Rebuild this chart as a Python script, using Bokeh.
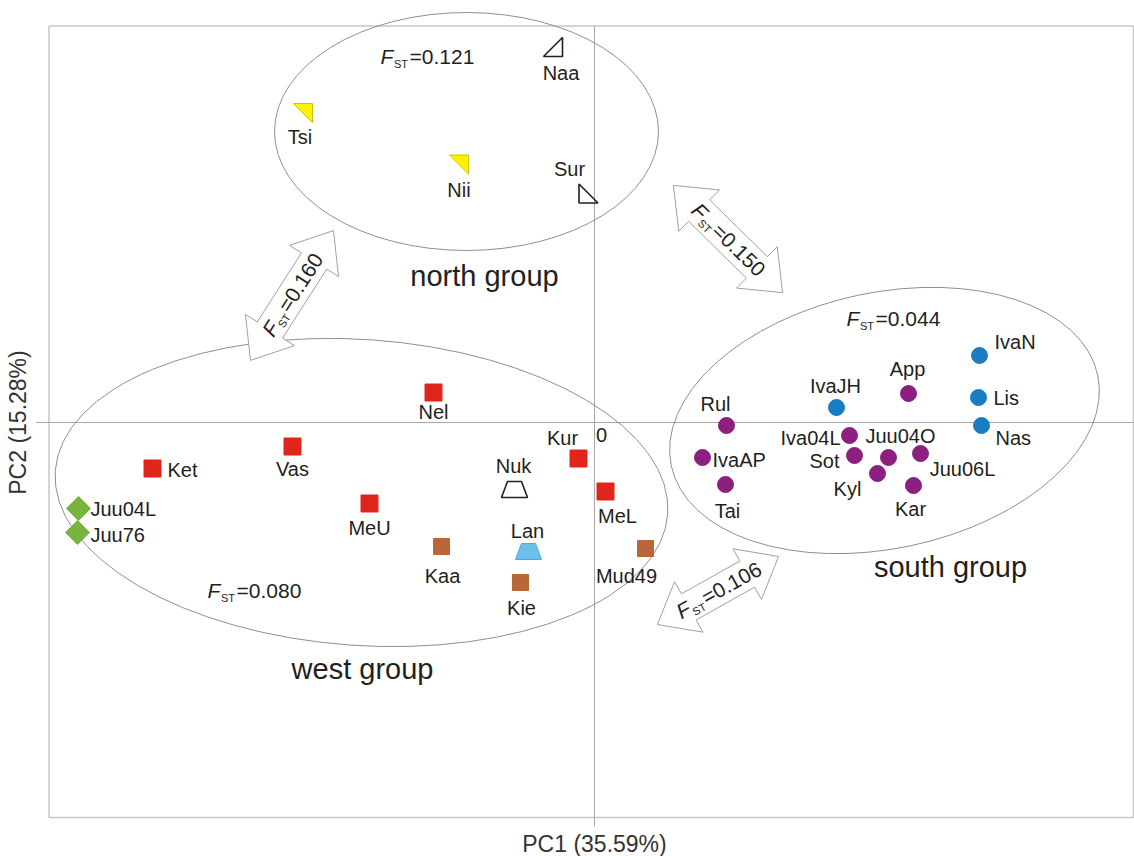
import math
from bokeh.plotting import figure
from bokeh.models import Range1d
from bokeh.embed import file_html
from bokeh.resources import INLINE
from bokeh.core.properties import value

# ---------------- data ----------------
pc1_limits = [-1.091, 1.078]
pc2_limits = [-0.790, 0.793]
x_title = "PC1 (35.59%)"
y_title = "PC2 (15.28%)"
origin_label = "0"

west_red_names = ["Nel", "Ket", "Vas", "MeU", "Kur", "MeL"]
west_red_pc1 = [-0.322, -0.884, -0.604, -0.450, -0.032, 0.022]
west_red_pc2 = [0.060, -0.092, -0.048, -0.162, -0.072, -0.138]

west_brown_names = ["Kaa", "Kie", "Mud49"]
west_brown_pc1 = [-0.306, -0.148, 0.102]
west_brown_pc2 = [-0.248, -0.320, -0.252]

west_green_names = ["Juu04L", "Juu76"]
west_green_pc1 = [-1.032, -1.034]
west_green_pc2 = [-0.172, -0.220]

trap_names = ["Nuk", "Lan"]
trap_pc1 = [-0.160, -0.132]
trap_pc2 = [-0.134, -0.258]

north_yellow_names = ["Tsi", "Nii"]
north_yellow_pc1 = [-0.583, -0.271]
north_yellow_pc2 = [0.619, 0.516]

north_open_names = ["Naa", "Sur"]
north_open_pc1 = [-0.083, -0.012]
north_open_pc2 = [0.751, 0.458]

south_blue_names = ["IvaN", "Lis", "Nas", "IvaJH"]
south_blue_pc1 = [0.770, 0.768, 0.774, 0.484]
south_blue_pc2 = [0.134, 0.050, -0.006, 0.030]

south_purple_names = ["App", "Rul", "IvaAP", "Tai", "Iva04L", "Sot",
                      "Juu04O", "Juu06L", "Kyl", "Kar"]
south_purple_pc1 = [0.628, 0.264, 0.216, 0.262, 0.510, 0.520, 0.588, 0.652, 0.566, 0.638]
south_purple_pc2 = [0.058, -0.006, -0.070, -0.124, -0.026, -0.066, -0.070, -0.062, -0.102, -0.126]

group_names = ["north group", "west group", "south group"]
group_fst = ["0.121", "0.080", "0.044"]
group_ell_pc1 = [-0.256, -0.466, 0.580]
group_ell_pc2 = [0.582, -0.140, 0.004]
group_ell_w = [0.768, 1.228, 0.872]
group_ell_h = [0.476, 0.612, 0.512]
group_ell_angle = [0.0, -4.0, 12.0]

pair_names = ["west-north", "north-south", "west-south"]
pair_fst = ["0.160", "0.150", "0.106"]

# ---------------- layout / style ----------------
PX = 500.0  # screen pixels per data unit (both axes)
W, H = 1134, 856
x_range = ((0 - 594) / PX, (W - 594) / PX)
y_range = ((422 - H) / PX, (422 - 0) / PX)
FONT = value("Liberation Sans")
TXT = "#231f20"

# label offsets in pixels: (dx right, dy down, align)
label_pos = {
    "Nel": (0, 19, "center"), "Ket": (15, 1, "left"), "Vas": (0, 22, "center"),
    "MeU": (0, 24, "center"), "Kur": (-16, -21, "center"), "MeL": (12, 24, "center"),
    "Kaa": (1, 29, "center"), "Kie": (1, 25, "center"), "Mud49": (-19, 27, "center"),
    "Juu04L": (12, 0, "left"), "Juu76": (13, 2, "left"),
    "Nuk": (-1, -24, "center"), "Lan": (-1, -21, "center"),
    "Tsi": (-3, 24, "center"), "Nii": (0, 25, "center"),
    "Naa": (8, 26, "center"), "Sur": (-19, -25, "center"),
    "IvaN": (15, -14, "left"), "Lis": (15, 0, "left"), "Nas": (14, 12, "left"),
    "IvaJH": (-1, -22, "center"), "App": (-1, -25, "center"), "Rul": (-11, -22, "center"),
    "IvaAP": (10, 2, "left"), "Tai": (2, 26, "center"), "Iva04L": (-9, 2, "right"),
    "Sot": (-15, 5, "right"), "Juu04O": (12, -22, "center"), "Juu06L": (42, 15, "center"),
    "Kyl": (-30, 15, "center"), "Kar": (-3, 23, "center"),
}
group_label_px = [(484, 275), (362, 668), (950, 566)]
group_fst_px = [(380, 56), (207, 590), (846, 318)]
arrow_center_px = [(291.5, 295), (727.5, 238.5), (717.5, 590)]
arrow_angle = [57.4, -44.5, 29.3]
arrow_len = [154, 153, 139]


def to_data(px, py):
    return (px - 594) / PX, (422 - py) / PX


p = figure(width=W, height=H, x_range=Range1d(*x_range), y_range=Range1d(*y_range),
           x_axis_location=None, y_axis_location=None, min_border=0,
           toolbar_location=None, output_backend="svg", outline_line_color=None,
           background_fill_color="white", border_fill_color="white")
p.grid.visible = False

# plot box
bx = [pc1_limits[0], pc1_limits[1], pc1_limits[1], pc1_limits[0], pc1_limits[0]]
by = [pc2_limits[1], pc2_limits[1], pc2_limits[0], pc2_limits[0], pc2_limits[1]]
p.line(bx, by, line_color="#c6c6c6", line_width=1.5)
# zero lines (slightly extended beyond the box like the original)
p.segment(x0=[pc1_limits[0] - 13 / PX, 0], y0=[0, pc2_limits[0] - 9 / PX],
          x1=[pc1_limits[1], 0], y1=[0, pc2_limits[1]],
          line_color="#a8a8a8", line_width=1)

# ellipses
p.ellipse(x=group_ell_pc1, y=group_ell_pc2, width=group_ell_w, height=group_ell_h,
          angle=[math.radians(a) for a in group_ell_angle],
          fill_color=None, line_color="#8f8f8f", line_width=1)

# double arrows
axs, ays = [], []
for (cxp, cyp), ang, L in zip(arrow_center_px, arrow_angle, arrow_len):
    cx, cy = to_data(cxp, cyp)
    a = math.radians(ang)
    ux, uy = math.cos(a), math.sin(a)
    vx, vy = -uy, ux
    hl, hw, sw, h = 36, 29, 15, L / 2
    local = [(h, 0), (h - hl, hw), (h - hl, sw), (-h + hl, sw), (-h + hl, hw), (-h, 0),
             (-h + hl, -hw), (-h + hl, -sw), (h - hl, -sw), (h - hl, -hw)]
    axs.append([cx + (s * ux + t * vx) / PX for s, t in local])
    ays.append([cy + (s * uy + t * vy) / PX for s, t in local])
p.patches(axs, ays, fill_color="white", line_color="#a0a0a0", line_width=1)


def fst_text(x0, y0, ang_deg, val, size=21):
    a = math.radians(ang_deg)
    ux, uy = math.cos(a), math.sin(a)
    vx, vy = -uy, ux
    p.text(x=[x0], y=[y0], text=["F"], angle=[a], text_font=FONT,
           text_font_style="italic", text_font_size=value(f"{size}px"),
           text_align="left", text_baseline="middle", text_color=TXT)
    sx = x0 + (13.5 * ux - 7 * vx) / PX
    sy = y0 + (13.5 * uy - 7 * vy) / PX
    p.text(x=[sx], y=[sy], text=["ST"], angle=[a], text_font=FONT,
           text_font_size=value("11px"), text_align="left", text_baseline="middle",
           text_color=TXT)
    ex = x0 + 29 * ux / PX
    ey = y0 + 29 * uy / PX
    p.text(x=[ex], y=[ey], text=["=" + val], angle=[a], text_font=FONT,
           text_font_size=value(f"{size}px"), text_align="left", text_baseline="middle",
           text_color=TXT)


# group FST labels
for (fx, fy), val in zip(group_fst_px, group_fst):
    x0, y0 = to_data(fx, fy)
    fst_text(x0, y0, 0, val)

# arrow FST labels
for (cxp, cyp), ang, val in zip(arrow_center_px, arrow_angle, pair_fst):
    cx, cy = to_data(cxp, cyp)
    a = math.radians(ang)
    x0 = cx - 46 * math.cos(a) / PX
    y0 = cy - 46 * math.sin(a) / PX
    fst_text(x0, y0, ang, val, size=21)

# group names
gx, gy = zip(*[to_data(*q) for q in group_label_px])
p.text(x=list(gx), y=list(gy), text=group_names, text_font=FONT,
       text_font_size=value("29px"), text_align="center", text_baseline="middle",
       text_color=TXT)

# ---------------- markers ----------------
p.scatter(west_red_pc1, west_red_pc2, marker="square", size=17,
          fill_color="#e1251b", line_color="#e1251b")
p.scatter(west_brown_pc1, west_brown_pc2, marker="square", size=16,
          fill_color="#b8663a", line_color="#b8663a")
p.scatter(west_green_pc1, west_green_pc2, marker="square", size=17, angle=math.pi / 4,
          fill_color="#7ab33f", line_color="#7ab33f")
p.scatter(south_blue_pc1, south_blue_pc2, marker="circle", size=16,
          fill_color="#1b7dc1", line_color="#1b7dc1")
p.scatter(south_purple_pc1, south_purple_pc2, marker="circle", size=16,
          fill_color="#8c1f80", line_color="#8c1f80")


def poly(cx, cy, pts):
    return [cx + dx / PX for dx, dy in pts], [cy + dy / PX for dx, dy in pts]


h = 9.5
tri_tr = [(-h, h), (h, h), (h, -h)]
tri_br = [(-h, -h), (h, -h), (h, h)]
tri_bl = [(-h, h), (-h, -h), (h, -h)]
trap = [(-7, 8), (7, 8), (13, -8), (-13, -8)]

yx, yy = zip(*[poly(x, y, tri_tr) for x, y in zip(north_yellow_pc1, north_yellow_pc2)])
p.patches(list(yx), list(yy), fill_color="#fff200", line_color="#cfc000", line_width=1)

open_shapes = [tri_br, tri_bl]
ox, oy = zip(*[poly(x, y, s) for x, y, s in zip(north_open_pc1, north_open_pc2, open_shapes)])
p.patches(list(ox), list(oy), fill_color=None, line_color="#231f20", line_width=1.6)

tx, ty = zip(*[poly(x, y, trap) for x, y in zip(trap_pc1, trap_pc2)])
p.patches([tx[0]], [ty[0]], fill_color=None, line_color="#231f20", line_width=1.6)
p.patches([tx[1]], [ty[1]], fill_color="#6cc0ec", line_color="#4aa8dc", line_width=1)

# ---------------- point labels ----------------
all_names = (west_red_names + west_brown_names + west_green_names + trap_names +
             north_yellow_names + north_open_names + south_blue_names + south_purple_names)
all_pc1 = (west_red_pc1 + west_brown_pc1 + west_green_pc1 + trap_pc1 +
           north_yellow_pc1 + north_open_pc1 + south_blue_pc1 + south_purple_pc1)
all_pc2 = (west_red_pc2 + west_brown_pc2 + west_green_pc2 + trap_pc2 +
           north_yellow_pc2 + north_open_pc2 + south_blue_pc2 + south_purple_pc2)

for align in ["left", "center", "right"]:
    xs, ys, ts = [], [], []
    for n, x, y in zip(all_names, all_pc1, all_pc2):
        dx, dy, al = label_pos[n]
        if al == align:
            xs.append(x + dx / PX)
            ys.append(y - dy / PX)
            ts.append(n)
    p.text(x=xs, y=ys, text=ts, text_font=FONT, text_font_size=value("20px"),
           text_align=align, text_baseline="middle", text_color=TXT)

# origin label and axis titles
p.text(x=[0 + 7 / PX], y=[0 - 12 / PX], text=[origin_label], text_font=FONT,
       text_font_size=value("20px"), text_align="center", text_baseline="middle",
       text_color=TXT)
p.text(x=[0], y=[pc2_limits[0] - 26 / PX], text=[x_title], text_font=FONT,
       text_font_size=value("23px"), text_align="center", text_baseline="middle",
       text_color="#333333")
p.text(x=[pc1_limits[0] - 31 / PX], y=[0], text=[y_title], angle=[math.pi / 2],
       text_font=FONT, text_font_size=value("23px"), text_align="center",
       text_baseline="middle", text_color="#333333")

open("out.html", "w").write(file_html(p, INLINE))
